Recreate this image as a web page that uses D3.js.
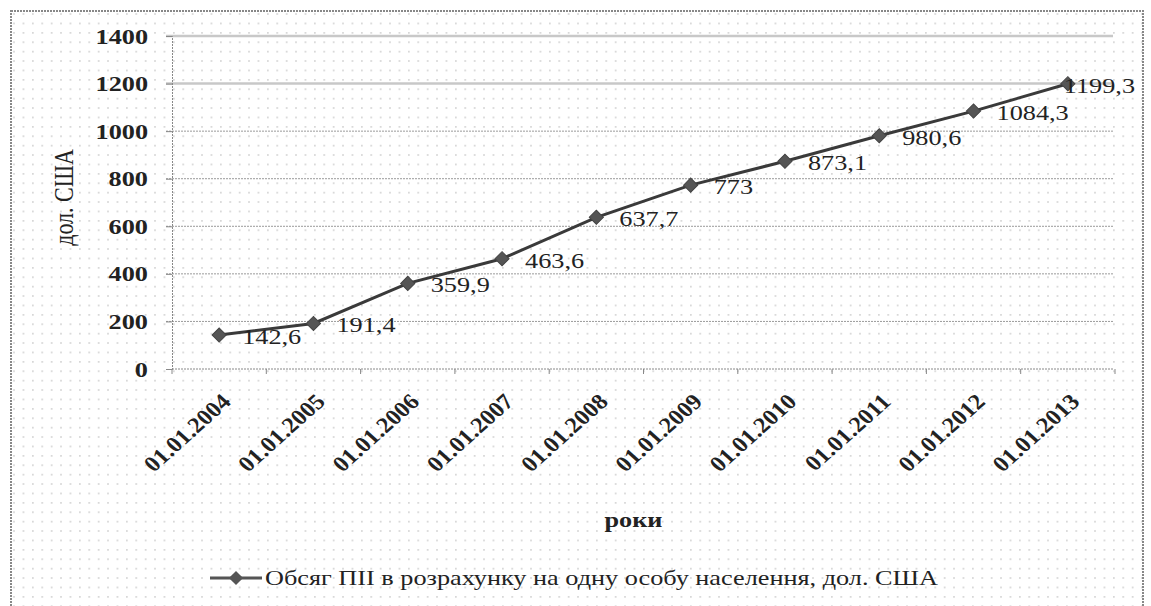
<!DOCTYPE html>
<html>
<head>
<meta charset="utf-8">
<script src="https://cdn.jsdelivr.net/npm/d3@7"></script>
<style>
  body { margin: 0; background: #fff; }
  svg text { font-family: "Liberation Serif", "Times New Roman", serif; fill: #222; }
</style>
</head>
<body>
<svg id="chart"></svg>
<script>
// Chart data
var years = ["01.01.2004", "01.01.2005", "01.01.2006", "01.01.2007", "01.01.2008",
             "01.01.2009", "01.01.2010", "01.01.2011", "01.01.2012", "01.01.2013"];
var values = [142.6, 191.4, 359.9, 463.6, 637.7, 773, 873.1, 980.6, 1084.3, 1199.3];
var valueLabels = ["142,6", "191,4", "359,9", "463,6", "637,7", "773", "873,1", "980,6", "1084,3", "1199,3"];
var yTicks = [0, 200, 400, 600, 800, 1000, 1200, 1400];
var seriesName = "Обсяг ПІІ в розрахунку на одну особу населення, дол. США";

var W = 1151, H = 606;
var margin = { top: 36, left: 172, bottom: 237, right: 36 };
var width = W - margin.left - margin.right, height = H - margin.top - margin.bottom;
var stretch = "scale(1.25,1)"; // the text in the picture is drawn wide

var svg = d3.select("#chart").attr("width", W).attr("height", H);

// dotted background pattern
var defs = svg.append("defs");
var pat = defs.append("pattern").attr("id", "dots")
    .attr("width", 9.4).attr("height", 9.4).attr("patternUnits", "userSpaceOnUse");
pat.append("rect").attr("x", 4).attr("y", 4).attr("width", 1.3).attr("height", 1.3).attr("fill", "#b5b5b5");

svg.append("rect").attr("x", 0).attr("y", 0).attr("width", W).attr("height", H).attr("fill", "#fff");
svg.append("rect").attr("x", 11).attr("y", 11).attr("width", 1132).attr("height", 610)
    .attr("fill", "url(#dots)")
    .attr("stroke", "#888").attr("stroke-width", 2).attr("stroke-dasharray", "2,1");

var x = d3.scaleBand().domain(years).range([0, width]);
var y = d3.scaleLinear().domain([0, 1400]).range([height, 0]);

var g = svg.append("g").attr("transform", "translate(" + margin.left + "," + margin.top + ")");

// gridlines (top two are pale and thick in the picture)
g.selectAll(".grid").data(yTicks.filter(function (d) { return d > 0; }))
  .enter().append("line")
    .attr("x1", -6).attr("x2", width - 2)
    .attr("y1", function (d) { return y(d); }).attr("y2", function (d) { return y(d); })
    .attr("stroke", function (d) { return d >= 1200 ? "#c8c8c8" : "#9a9a9a"; })
    .attr("stroke-width", function (d) { return d >= 1200 ? 2.5 : 1; })
    .attr("stroke-dasharray", function (d) { return d >= 1200 ? null : "2,1"; });

// y axis
var yAxis = d3.axisLeft(y).tickValues(yTicks).tickFormat(d3.format("d")).tickSize(6);
var ya = g.append("g").call(yAxis).attr("font-family", null);
ya.select(".domain").attr("stroke", "#888").attr("stroke-dasharray", "2,1");
ya.selectAll(".tick line").attr("stroke", "#888");
ya.selectAll(".tick text")
  .attr("x", null).attr("dy", null)
  .attr("transform", "translate(-24,7) " + stretch)
  .attr("font-size", 21).attr("font-weight", "bold").attr("fill", "#333");

// x axis with ticks at band edges
var xa = g.append("g").attr("transform", "translate(0," + height + ")");
xa.append("line").attr("x1", 0).attr("x2", width - 2).attr("stroke", "#888").attr("stroke-dasharray", "2,1");
xa.selectAll(".edge").data(d3.range(years.length + 1)).enter().append("line")
    .attr("x1", function (i) { return x.step() * i; }).attr("x2", function (i) { return x.step() * i; })
    .attr("y1", 0).attr("y2", 5).attr("stroke", "#888");
xa.selectAll(".lbl").data(years).enter().append("text")
    .attr("transform", function (d) {
      return "translate(" + (x(d) + x.bandwidth() / 2 + 13) + ",34) scale(1.12,1) rotate(-45)";
    })
    .attr("text-anchor", "end")
    .attr("font-size", 22).attr("font-weight", "bold").attr("fill", "#333")
    .text(function (d) { return d; });

// axis titles
g.append("text").attr("transform", "translate(" + (width / 2 - 10) + "," + (height + 158) + ") " + stretch)
  .attr("text-anchor", "middle").attr("font-size", 21).attr("font-weight", "bold")
  .text("роки");
g.append("text").attr("transform", "translate(-99," + (height / 2 - 5) + ") scale(1.2,1) rotate(-90)")
  .attr("text-anchor", "middle").attr("font-size", 22)
  .text("дол. США");

// series line
var line = d3.line()
  .x(function (d, i) { return x(years[i]) + x.bandwidth() / 2; })
  .y(function (d) { return y(d); });
g.append("path").datum(values).attr("d", line)
  .attr("fill", "none").attr("stroke", "#3a3a3a").attr("stroke-width", 3);

var diamond = d3.symbol().type(d3.symbolSquare).size(100);
g.selectAll(".pt").data(values).enter().append("path")
  .attr("d", diamond)
  .attr("transform", function (d, i) {
    return "translate(" + (x(years[i]) + x.bandwidth() / 2) + "," + y(d) + ") rotate(45)";
  })
  .attr("fill", "#555").attr("stroke", "#444");

// data labels; the last one is pulled left to stay inside the plot
g.selectAll(".vl").data(values).enter().append("text")
  .attr("transform", function (d, i) {
    var dx = i === values.length - 1 ? -4 : 23;
    return "translate(" + (x(years[i]) + x.bandwidth() / 2 + dx) + "," + (y(d) + 9) + ") " + stretch;
  })
  .attr("font-size", 21).attr("fill", "#222")
  .text(function (d, i) { return valueLabels[i]; });

// legend
var lg = svg.append("g").attr("transform", "translate(210,578)");
lg.append("line").attr("x1", 0).attr("x2", 52).attr("stroke", "#555").attr("stroke-width", 3);
lg.append("path").attr("d", diamond).attr("transform", "translate(26,0) rotate(45)").attr("fill", "#555");
lg.append("text").attr("transform", "translate(55,7) " + stretch).attr("font-size", 21).text(seriesName);
</script>
</body>
</html>
